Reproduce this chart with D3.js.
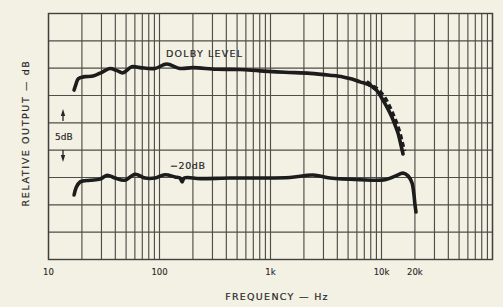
<!DOCTYPE html>
<html>
<head>
<meta charset="utf-8">
<script src="https://cdn.jsdelivr.net/npm/d3@7"></script>
<style>
  html, body { margin: 0; padding: 0; background: #f3f0e4; }
  svg { display: block; }
</style>
</head>
<body>
<div id="chart"></div>
<script>
/* Chart values */
var dolbyFreq = [17, 17.7, 18.6, 21.3, 25.2, 30.3, 35.8, 41.4, 46.9, 56.2, 66.7, 91, 116, 153, 200, 327, 531, 804, 1351, 2268, 3436, 4500, 5420, 6400, 7870, 9100, 10300, 11450, 12370, 13250, 14100, 15220, 15630];
var dolbyDb = [-4.0, -2.9, -1.9, -1.55, -1.45, -0.75, -0.05, -0.45, -0.85, 0.25, 0.1, -0.05, 0.75, -0.05, 0.1, -0.2, -0.25, -0.5, -0.75, -0.95, -1.3, -1.6, -2.0, -2.5, -3.1, -4.1, -5.85, -7.5, -8.9, -10.4, -11.9, -14.7, -15.7];

var dashFreq = [7300, 8200, 9250, 10500, 11650, 12650, 13750, 14650, 15250, 15900];
var dashDb = [-2.55, -3.3, -4.0, -5.3, -6.95, -8.6, -10.4, -12.25, -13.7, -15.2];

var lowFreq = [17, 17.7, 19.3, 23.6, 29.1, 33.7, 39.7, 48.9, 60.2, 74, 91, 112, 138, 153, 160, 167, 232, 432, 804, 1495, 2420, 3436, 6400, 10760, 13250, 15630, 17340, 18830, 19620, 20030, 20450];
var lowDb = [-23.2, -21.9, -20.8, -20.5, -20.3, -19.6, -20.1, -20.5, -19.4, -20.1, -20.1, -19.5, -19.9, -20.1, -20.8, -20.1, -20.2, -20.1, -20.1, -20.0, -19.55, -20.1, -20.4, -20.4, -19.75, -19.2, -19.7, -21.0, -23.2, -25.0, -26.3];

var tickFreqs = [10, 100, 1000, 10000, 20000];
var tickTexts = ["10", "100", "1k", "10k", "20k"];
var dbGrid = [10, 5, 0, -5, -10, -15, -20, -25, -30, -35];

/* Layout */
var width = 503, height = 307;
var plot = { left: 48.5, right: 492.5, top: 13.5, bottom: 259.5 };
var ink = "#262626", gridInk = "#4e4e49";
var fontFamily = "'DejaVu Sans', Verdana, sans-serif";

var svg = d3.select("#chart").append("svg")
    .attr("width", width)
    .attr("height", height);

svg.append("rect")
    .attr("width", width).attr("height", height)
    .attr("fill", "#f3f0e4");

var x = d3.scaleLog().domain([10, 100000]).range([plot.left, plot.right]);
var y = d3.scaleLinear().domain([-35, 10]).range([plot.bottom, plot.top]);

/* Grid */
var grid = svg.append("g").attr("stroke", gridInk).attr("stroke-width", 1.15);

grid.selectAll("line.v")
    .data(x.ticks())
    .enter().append("line")
    .attr("class", "v")
    .attr("x1", function(d) { return x(d); })
    .attr("x2", function(d) { return x(d); })
    .attr("y1", plot.top)
    .attr("y2", plot.bottom);

grid.selectAll("line.h")
    .data(dbGrid)
    .enter().append("line")
    .attr("class", "h")
    .attr("x1", plot.left)
    .attr("x2", plot.right)
    .attr("y1", function(d) { return y(d); })
    .attr("y2", function(d) { return y(d); });

svg.append("rect")
    .attr("x", plot.left).attr("y", plot.top)
    .attr("width", plot.right - plot.left)
    .attr("height", plot.bottom - plot.top)
    .attr("fill", "none")
    .attr("stroke", "#40403c")
    .attr("stroke-width", 1.4);

/* Curves */
function pairs(fs, vs) {
    return fs.map(function(f, i) { return [f, vs[i]]; });
}

var line = d3.line()
    .x(function(d) { return x(d[0]); })
    .y(function(d) { return y(d[1]); })
    .curve(d3.curveCatmullRom.alpha(0.5));

svg.append("path")
    .attr("d", line(pairs(dolbyFreq, dolbyDb)))
    .attr("fill", "none")
    .attr("stroke", "#1c1c1c")
    .attr("stroke-width", 3.6)
    .attr("stroke-linecap", "round")
    .attr("stroke-linejoin", "round");

svg.append("path")
    .attr("d", line(pairs(dashFreq, dashDb)))
    .attr("fill", "none")
    .attr("stroke", "#1c1c1c")
    .attr("stroke-width", 4.6)
    .attr("stroke-dasharray", "5,3");

svg.append("path")
    .attr("d", line(pairs(lowFreq, lowDb)))
    .attr("fill", "none")
    .attr("stroke", "#1c1c1c")
    .attr("stroke-width", 3.6)
    .attr("stroke-linecap", "round")
    .attr("stroke-linejoin", "round");

/* Text gets a hairline stroke to look like the heavier printed lettering */
function label(sel) {
    return sel.attr("font-family", fontFamily)
        .attr("fill", ink)
        .attr("stroke", ink)
        .attr("stroke-width", 0.18);
}

/* Curve labels */
label(svg.append("text"))
    .attr("x", 166).attr("y", 57)
    .attr("font-size", 9.5)
    .attr("letter-spacing", 1.2)
    .text("DOLBY LEVEL");

label(svg.append("text"))
    .attr("x", 170).attr("y", 169)
    .attr("font-size", 9.5)
    .attr("letter-spacing", 0.6)
    .text("\u221220dB");

/* 5 dB scale marker */
label(svg.append("text"))
    .attr("x", 55).attr("y", 140)
    .attr("font-size", 9)
    .text("5dB");

var arrows = svg.append("g").attr("fill", ink).attr("stroke", ink);
arrows.append("line").attr("x1", 63).attr("x2", 63).attr("y1", 114).attr("y2", 121).attr("stroke-width", 1.3);
arrows.append("path").attr("d", "M63,109 L60.8,116 L65.2,116 Z").attr("stroke", "none");
arrows.append("line").attr("x1", 63).attr("x2", 63).attr("y1", 150).attr("y2", 157).attr("stroke-width", 1.3);
arrows.append("path").attr("d", "M63,162 L60.8,155 L65.2,155 Z").attr("stroke", "none");

/* Axis labels */
label(svg.selectAll("text.tick")
    .data(tickFreqs)
    .enter().append("text"))
    .attr("class", "tick")
    .attr("x", function(d) { return x(d); })
    .attr("y", 275)
    .attr("text-anchor", "middle")
    .attr("font-size", 8.5)
    .attr("stroke-width", 0.1)
    .text(function(d, i) { return tickTexts[i]; });

label(svg.append("text"))
    .attr("x", 277).attr("y", 300)
    .attr("text-anchor", "middle")
    .attr("font-size", 9.5)
    .attr("letter-spacing", 1.3)
    .text("FREQUENCY \u2014 Hz");

label(svg.append("text"))
    .attr("transform", "translate(29,133) rotate(-90)")
    .attr("text-anchor", "middle")
    .attr("font-size", 9.5)
    .attr("letter-spacing", 1.6)
    .text("RELATIVE OUTPUT \u2014 dB");
</script>
</body>
</html>
